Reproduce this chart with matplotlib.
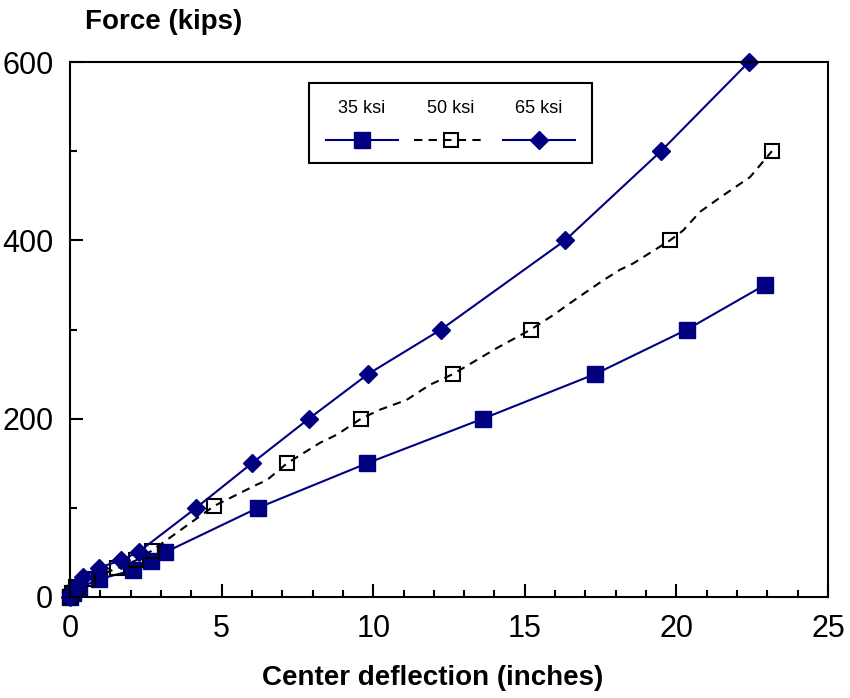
import matplotlib
matplotlib.use("Agg")
import matplotlib.pyplot as plt
from matplotlib.ticker import MultipleLocator
from matplotlib.offsetbox import VPacker

plt.rcParams['font.family'] = ['Liberation Sans', 'DejaVu Sans']

navy = "#000080"

# 35 ksi
x35 = [0, 0.1, 0.3, 0.96, 2.07, 2.67, 3.13, 6.2, 9.8, 13.62, 17.32, 20.35, 22.92]
y35 = [0, 5, 10, 20, 30, 40, 50, 100, 150, 200, 250, 300, 350]

# 50 ksi (measured curve, markers every load step)
x50 = [0, 0.05, 0.2, 0.6, 1.55, 2.17, 2.7, 4.75, 6.16, 6.49, 7.16, 8.25, 8.8, 9.6,
       10.22, 11.1, 11.87, 12.63, 14.07, 15.2, 15.93, 16.72, 17.58, 18.14, 18.57,
       19.79, 20.22, 20.78, 21.44, 22.43, 23.15]
y50 = [0, 5, 11, 20, 32, 41, 52, 102, 126, 131, 150, 173, 182, 200,
       210, 221, 238, 250, 279, 300, 316, 335, 355, 367, 374,
       400, 411, 432, 448, 471, 500]
marks50 = [0, 1, 2, 3, 4, 5, 6, 7, 10, 13, 17, 19, 25, 30]

# 65 ksi
x65 = [0, 0.05, 0.15, 0.42, 0.96, 1.68, 2.28, 4.16, 6.0, 7.88, 9.83, 12.24, 16.33, 19.49, 22.39]
y65 = [0, 5, 10, 22, 33, 41, 51, 100, 150, 200, 250, 300, 400, 500, 600]

fig = plt.figure(figsize=(8.5, 6.98), dpi=100)
ax = fig.add_axes([70 / 850, 1 - 597 / 698, 758 / 850, 535 / 698])

ax.plot(x35, y35, color=navy, lw=1.5, marker="s", ms=11.5, mfc=navy, mec=navy,
        clip_on=False, label="35 ksi")
ax.plot(x50, y50, color="black", lw=1.5, ls=(0, (4, 3)), marker="s", ms=9.5, mfc="none",
        mec="black", mew=1.5, markevery=marks50, clip_on=False, label="50 ksi")
ax.plot(x65, y65, color=navy, lw=1.5, marker="D", ms=9.5, mfc=navy, mec=navy,
        clip_on=False, label="65 ksi")

ax.set_xlim(0, 25)
ax.set_ylim(0, 600)
ax.xaxis.set_major_locator(MultipleLocator(5))
ax.xaxis.set_minor_locator(MultipleLocator(1))
ax.yaxis.set_major_locator(MultipleLocator(200))
ax.yaxis.set_minor_locator(MultipleLocator(100))
ax.tick_params(which="both", direction="in", top=False, right=False, width=1.5,
               labelsize=22, pad=12)
ax.tick_params(which="major", length=9.5)
ax.tick_params(which="minor", length=5)
for s in ax.spines.values():
    s.set_linewidth(1.5)

fig.text(85 / 850, 1 - 22 / 698, "Force (kips)", fontsize=20, fontweight="bold",
         ha="left", va="center")
fig.text(433 / 850, 1 - 678 / 698, "Center deflection (inches)", fontsize=20,
         fontweight="bold", ha="center", va="center")

leg = ax.legend(ncol=3, loc="upper left", bbox_to_anchor=(0.315, 0.961), borderaxespad=0,
                fontsize=13, handlelength=4.0, columnspacing=0.9, borderpad=0.95,
                fancybox=False, framealpha=1, edgecolor="black")
leg.get_frame().set_linewidth(1.5)
# put each label above its key
for col in leg._legend_handle_box.get_children():
    items = []
    for item in col.get_children():
        h, t = item.get_children()
        items.append(VPacker(pad=0, sep=12, children=[t, h], align="center"))
    col._children = items

fig.savefig("out.png", dpi=100)
